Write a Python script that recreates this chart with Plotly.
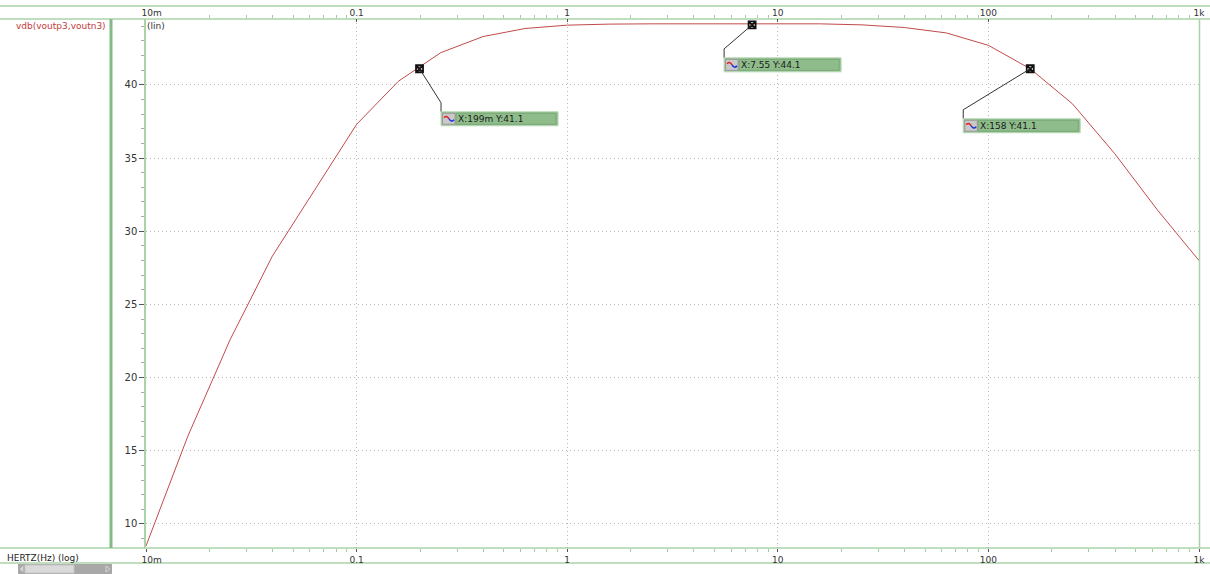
import numpy as np
import plotly.graph_objects as go

# AC sweep: frequency (Hz) and differential gain vdb(voutp3,voutn3) in dB
freq = [0.01, 0.0158, 0.0251, 0.0398, 0.0631, 0.1, 0.158, 0.251, 0.398, 0.631,
        1, 1.58, 2.51, 3.98, 6.31, 10, 15.8, 25.1, 39.8, 63.1,
        100, 158, 251, 398, 631, 1000]
vdb = [8.5, 16.0, 22.6, 28.3, 32.8, 37.3, 40.25, 42.2, 43.3, 43.85,
       44.08, 44.15, 44.17, 44.18, 44.18, 44.18, 44.17, 44.1, 43.92, 43.55,
       42.7, 41.1, 38.7, 35.3, 31.5, 28.0]

# Cursor markers
mark_x = [0.199, 7.55, 158]
mark_y = [41.1, 44.1, 41.1]
mark_xtxt = ["199m", "7.55", "158"]

# Axis ticks
x_ticks = [0.01, 0.1, 1, 10, 100, 1000]
x_ticktext = ["10m", "0.1", "1", "10", "100", "1k"]
y_ticks = [10, 15, 20, 25, 30, 35, 40]

W, H = 1210, 574
L, R, T, B = 146, 1199, 19, 548

FONT = "DejaVu Sans"
FS = 9
GREEN_LINE = "#a9d3a9"
RED = "#c24a4a"
GRID_DASH = "1px,3px"


def px_x(p):
    return (p - L) / (R - L)


def px_y(p):
    return (B - p) / (B - T)


def rect_path(x0, y0, x1, y1):
    return "M {},{} L {},{} L {},{} L {},{} Z".format(x0, y0, x1, y0, x1, y1, x0, y1)


minor_x = [m * d for d in [0.01, 0.1, 1, 10, 100] for m in range(2, 10)]

fig = go.Figure()
fig.add_trace(go.Scatter(x=freq, y=vdb, mode="lines",
                         line=dict(color=RED, width=1), hoverinfo="skip",
                         showlegend=False))
fig.add_trace(go.Scatter(x=mark_x, y=mark_y, mode="markers", xaxis="x2",
                         marker=dict(symbol="square-x-open", size=7, color="#111",
                                     line=dict(width=1.8, color="#111")),
                         hoverinfo="skip", showlegend=False))

shapes = []
annotations = []

# frame lines
for yy in [6, 19, 548, 563]:
    shapes.append(dict(type="line", xref="paper", yref="paper",
                       x0=px_x(0), x1=px_x(W), y0=px_y(yy), y1=px_y(yy),
                       line=dict(color=GREEN_LINE, width=1.5), layer="below"))
shapes.append(dict(type="line", xref="paper", yref="paper",
                   x0=px_x(111), x1=px_x(111), y0=px_y(19), y1=px_y(548),
                   line=dict(color="#85b985", width=3)))
shapes.append(dict(type="line", xref="paper", yref="paper",
                   x0=px_x(1199.5), x1=px_x(1199.5), y0=px_y(19), y1=px_y(548),
                   line=dict(color=GREEN_LINE, width=1.5), layer="below"))

# scrollbar
shapes.append(dict(type="rect", xref="paper", yref="paper",
                   x0=px_x(18), x1=px_x(112), y0=px_y(564), y1=px_y(575),
                   fillcolor="#a8a8a8", line=dict(width=0)))
shapes.append(dict(type="rect", xref="paper", yref="paper",
                   x0=px_x(25), x1=px_x(74), y0=px_y(565), y1=px_y(573),
                   fillcolor="#dadada", line=dict(color="#c4c4c4", width=1)))
shapes.append(dict(type="path", xref="paper", yref="paper",
                   path="M {},{} L {},{} L {},{} Z".format(px_x(23), px_y(566), px_x(23), px_y(572), px_x(20), px_y(569)),
                   fillcolor="#dadada", line=dict(color="#c8c8c8", width=1)))
shapes.append(dict(type="path", xref="paper", yref="paper",
                   path="M {},{} L {},{} L {},{} Z".format(px_x(106), px_y(566), px_x(106), px_y(572), px_x(110), px_y(569)),
                   fillcolor="#a8a8a8", line=dict(color="#d4d4d4", width=1)))

# cursor callouts: offset of box top-left from the marker, in pixels (screen down = +)
box_offsets = [(21.5, 43), (-28, 33), (-67, 50)]
BOX_W, BOX_H = 117, 14
for fx, fy, txt, (dx, dy) in zip(mark_x, mark_y, mark_xtxt, box_offsets):
    common = dict(xref="x2", yref="y", xsizemode="pixel", ysizemode="pixel",
                  xanchor=fx, yanchor=fy)
    # connector
    shapes.append(dict(type="path", **common,
                       path="M 0,0 L {},{} L {},{}".format(dx, -(dy - 9), dx, -dy),
                       line=dict(color="#333", width=1)))
    # outer box
    shapes.append(dict(type="path", **common,
                       path=rect_path(dx, -dy, dx + BOX_W, -(dy + BOX_H)),
                       fillcolor="#8fbc8b", line=dict(color="#b9d9b6", width=1)))
    # text field
    shapes.append(dict(type="path", **common,
                       path=rect_path(dx + 15, -(dy + 1.5), dx + BOX_W - 2, -(dy + BOX_H - 1.5)),
                       fillcolor="#8fbc8b", line=dict(color="#7aa877", width=1)))
    # icon cell
    shapes.append(dict(type="path", **common,
                       path=rect_path(dx + 1.5, -(dy + 1.5), dx + 14, -(dy + BOX_H - 1.5)),
                       fillcolor="#c9c9c9", line=dict(color="#9a9a9a", width=1)))
    shapes.append(dict(type="path", **common,
                       path="M {},{} Q {},{} {},{}".format(dx + 3, -(dy + 6), dx + 5, -(dy + 3), dx + 8, -(dy + 7)),
                       line=dict(color="#e02020", width=1.5)))
    shapes.append(dict(type="path", **common,
                       path="M {},{} Q {},{} {},{}".format(dx + 8, -(dy + 7), dx + 10, -(dy + 11), dx + 13, -(dy + 8)),
                       line=dict(color="#2030e0", width=1.5)))
    annotations.append(dict(xref="x2", yref="y", x=np.log10(fx), y=fy,
                            xshift=dx + 15, yshift=-(dy + 7.5),
                            xanchor="left", yanchor="middle", showarrow=False,
                            text="X:{} Y:{}".format(txt, fy),
                            font=dict(family=FONT, size=FS, color="#1a1a1a")))

# labels
annotations.append(dict(xref="paper", yref="paper", x=px_x(108), y=px_y(26),
                        xanchor="right", yanchor="middle", showarrow=False,
                        text="vdb(voutp3,voutn3)",
                        font=dict(family=FONT, size=FS, color="#c23b3b")))
annotations.append(dict(xref="paper", yref="paper", x=px_x(145), y=px_y(26),
                        xanchor="left", yanchor="middle", showarrow=False,
                        text="(lin)", font=dict(family=FONT, size=FS, color="#333")))
annotations.append(dict(xref="paper", yref="paper", x=px_x(5), y=px_y(558),
                        xanchor="left", yanchor="middle", showarrow=False,
                        text="HERTZ(Hz) (log)", font=dict(family=FONT, size=FS, color="#222")))

tick_text = ["\u00a0\u00a0\u00a0\u00a0" + x_ticktext[0]] + x_ticktext[1:]

xaxis_common = dict(type="log", range=[-2, 3], tickmode="array", tickvals=x_ticks,
                    ticktext=tick_text, tickwidth=1,
                    tickcolor="#555", tickfont=dict(family=FONT, size=FS, color="#333"),
                    showline=False, zeroline=False, automargin=False)
minor_common = dict(tickmode="array", tickvals=minor_x, ticks="outside",
                    ticklen=3, tickcolor="#9fcf9f", showgrid=False)

fig.update_layout(
    width=W, height=H,
    margin=dict(l=L, r=W - R, t=T, b=H - B, pad=0, autoexpand=False),
    paper_bgcolor="white", plot_bgcolor="white",
    font=dict(family=FONT, size=FS, color="#333"),
    xaxis=dict(**xaxis_common, side="bottom", ticks="outside", ticklen=3,
               showgrid=True, gridcolor="#b9b9b9", griddash=GRID_DASH, gridwidth=1,
               minor=minor_common),
    xaxis2=dict(**xaxis_common, side="top", overlaying="x", anchor="y",
                ticks="inside", ticklen=3, showgrid=False,
                minor=minor_common),
    yaxis=dict(range=[8.36, 44.5], tickmode="array", tickvals=y_ticks, ticks="outside",
               ticklen=5, tickcolor="#555", showline=True, linecolor=GREEN_LINE,
               linewidth=1.5, showgrid=True, gridcolor="#b9b9b9", griddash=GRID_DASH,
               zeroline=False, automargin=False,
               tickfont=dict(family=FONT, size=FS + 1, color="#333"),
               minor=dict(dtick=1, ticks="outside", ticklen=3, tickcolor="#aaa",
                          showgrid=False)),
    shapes=shapes, annotations=annotations, showlegend=False,
)

fig.write_html("out.html")
